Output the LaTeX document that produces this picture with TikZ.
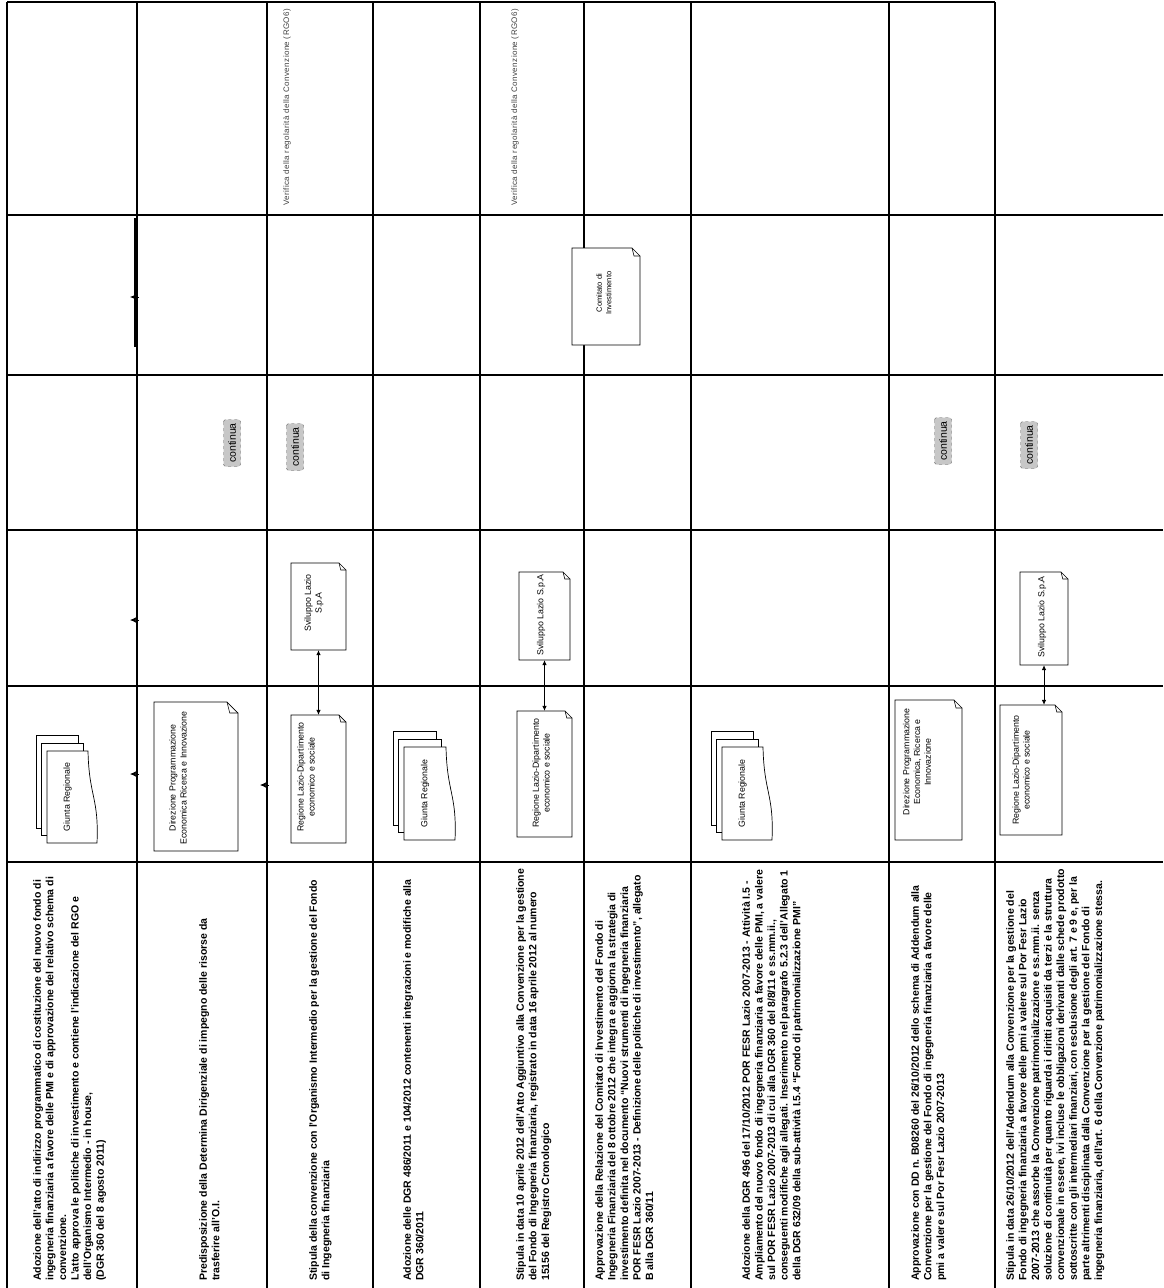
\documentclass[tikz,border=0pt]{standalone}
\usepackage{fontspec}
\setmainfont{Liberation Sans}
\newfontfamily\spacedfont[LetterSpace=5]{Liberation Sans}
\usetikzlibrary{arrows.meta,fit,calc}

\newcommand\descfont{\fontsize{10.5}{12.6}\selectfont\bfseries}
\newcommand\boxfont{\fontsize{8.8}{10.8}\selectfont}
\newcommand\smallboxfont{\fontsize{7.6}{9.5}\selectfont}

\tikzset{
  grid/.style={line width=1.1pt, black},
  boxline/.style={line width=0.7pt, black, fill=white},
  foldline/.style={line width=0.6pt, black},
  desc/.style={rotate=90, anchor=north west, align=left, font=\descfont, inner sep=0pt},
  lbl/.style={rotate=90, align=center, font=\boxfont, inner sep=0pt},
  vtext/.style={rotate=90, anchor=west, font=\fontsize{8}{9}\spacedfont, text=black!75, inner sep=0pt},
  contbox/.style={rotate=90, draw=black!65, dashed, fill=black!22, rounded corners=2.5pt,
     minimum width=47pt, minimum height=17pt, inner sep=0pt, font=\fontsize{10.5}{11}\selectfont},
  conn/.style={line width=0.7pt, {Latex[length=5pt,width=4.5pt]}-{Latex[length=5pt,width=4.5pt]}},
  tip/.style={line width=0.7pt, -{Latex[length=6pt,width=5.5pt]}},
}

\newcommand\notebox[6]{% name x1 y1 x2 y2 fold
  \draw[boxline] (#2,#3) -- ({#4-#6},#3) -- (#4,{#3+#6}) -- (#4,#5) -- (#2,#5) -- cycle;
  \draw[foldline] ({#4-#6},#3) -- ({#4-0.75*#6},{#3+#6}) -- (#4,{#3+#6});
  \coordinate (#1-a) at (#2,#3);
  \coordinate (#1-b) at (#4,#5);
  \node[fit=(#1-a)(#1-b), inner sep=0pt] (#1) {};
}

\newcommand\multidoc[5]{% name x1 y1 x2 y2 (front sheet)
  \draw[boxline] ({#2-11},{#3-16}) rectangle ({#4-10},{#5-15});
  \draw[boxline] ({#2-5.5},{#3-8}) rectangle ({#4-5},{#5-7.5});
  \draw[boxline] (#2,#3) -- (#4,#3)
     .. controls ({#4+1},{0.5*#3+0.5*#5}) and ({#4+11},{0.5*#3+0.5*#5}) .. ({#4+9},#5)
     -- (#2,#5) -- cycle;
  \node[lbl] (#1) at ({0.5*#2+0.5*#4},{0.5*#3+0.5*#5}) {Giunta Regionale};
}

\begin{document}
\begin{tikzpicture}[x=1pt,y=-1pt]
\useasboundingbox (0,0) rectangle (1163,1288);

% ---------- table grid ----------
\draw[grid] (7,2) -- (995,2);
\foreach \yy in {215,375,530,686,862} \draw[grid] (7,\yy) -- (1163,\yy);
\foreach \xx in {7,137,267,373,480,584,691,889,995} \draw[grid] (\xx,2) -- (\xx,1288);

% ---------- lane 1 (actors) ----------
\multidoc{giunta1}{47}{751}{88}{843}
\multidoc{giunta2}{404}{747}{446}{840}
\multidoc{giunta3}{722}{747}{763}{840}

\notebox{dir1}{154}{702}{238}{851}{11}
\node[lbl] (dir1t) at (178,778) {Direzione Programmazione\\Economica Ricerca e Innovazione};

\notebox{reg1}{291}{715}{346}{843}{7}
\node[lbl] (reg1t) at (306,777) {Regione Lazio-Dipartimento\\economico e sociale};

\notebox{reg2}{517}{711}{572}{837}{7}
\node[lbl] (reg2t) at (541,773) {Regione Lazio-Dipartimento\\economico e  sociale};

\notebox{dir2}{895}{700}{962}{840}{8}
\node[lbl] (dir2t) at (917,762) {Direzione Programmazione\\Economica, Ricerca e\\Innovazione};

\notebox{reg3}{1000}{705}{1062}{835}{7}
\node[lbl] (reg3t) at (1021,770) {Regione Lazio-Dipartimento\\economico e sociale};

% ---------- lane 2 ----------
\notebox{svl1}{291}{563}{346}{650}{7}
\node[lbl] (svl1t) at (314,603) {Sviluppo Lazio\\S.p.A};

\notebox{svl2}{519}{572}{570}{660}{7}
\node[lbl] (svl2t) at (541,615) {Sviluppo Lazio S.p.A};

\notebox{svl3}{1020}{572}{1068}{665}{7}
\node[lbl] (svl3t) at (1042,617) {Sviluppo Lazio S.p.A};

\draw[conn] (svl1.south) -- (svl1.south |- reg1.north);
\draw[conn] (svl2.south) -- (svl2.south |- reg2.north);
\draw[conn] (svl3.south) -- (svl3.south |- reg3.north);

% ---------- lane 3 : continua ----------
\node[contbox] (cont2) at (232,443) {continua};
\node[contbox] (cont3) at (295,447) {continua};
\node[contbox] (cont8) at (943,441) {continua};
\node[contbox] (cont9) at (1029,445) {continua};

% ---------- lane 4 ----------
\notebox{com}{572}{248}{640}{345}{8}
\node[lbl, font=\smallboxfont] (comt) at (604,293) {Comitato di\\Investimento};

\coordinate (v1a) at (135,218);
\coordinate (v1b) at (135,347);
\draw[line width=1.4pt] (v1a) -- (v1b);

% ---------- lane 5 ----------
\node[vtext] (ver3) at (287,206) {Verifica della regolarità della Convenzione (RGO6)};
\node[vtext] (ver5) at (515,206) {Verifica della regolarità della Convenzione (RGO6)};

% ---------- small arrow tips ----------
\coordinate (t1a) at (139,774); \coordinate (t1b) at (130,774);
\draw[tip] (t1a) -- (t1b);
\coordinate (t2a) at (269,785); \coordinate (t2b) at (260,785);
\draw[tip] (t2a) -- (t2b);
\coordinate (t3a) at (139,620); \coordinate (t3b) at (130,620);
\draw[tip] (t3a) -- (t3b);
\coordinate (t4a) at (139,297); \coordinate (t4b) at (130,297);
\draw[tip] (t4a) -- (t4b);

% ---------- descriptions ----------
\node[desc] (d1) at (33,1281) {Adozione dell'atto di indirizzo programmatico di costituzione del nuovo fondo di\\
ingegneria finanziaria a favore delle PMI e  di approvazione del relativo schema di\\
convenzione.\\
L'atto approva  le politiche di investimento e contiene l'indicazione del RGO e\\
dell'Organismo Intermedio - in house,\\
(DGR 360  del 8 agosto 2011)};

\node[desc] (d2) at (199,1281) {Predisposizione della Determina Dirigenziale di impegno delle risorse da\\
trasferire all'O.I.};

\node[desc] (d3) at (309,1281) {Stipula della convenzione con l'Organismo Intermedio per la gestione del Fondo\\
di Ingegneria finanziaria};

\node[desc] (d4) at (403,1281) {Adozione delle DGR 486/2011 e 104/2012 contenenti integrazioni e modifiche alla\\
DGR 360/2011};

\node[desc] (d5) at (516,1281) {Stipula in data 10 aprile 2012 dell'Atto Aggiuntivo alla Convenzione per la gestione\\
del Fondo di Ingegneria finanziaria, registrato in data 16 aprile 2012 al numero\\
15156 del Registro Cronologico};

\node[desc] (d6) at (595,1281) {Approvazione della Relazione del Comitato di Investimento del Fondo di\\
Ingegneria Finanziaria del 8 ottobre 2012 che integra e aggiorna la strategia di\\
investimento definita nel documento ``Nuovi strumenti di ingegneria finanziaria\\
POR FESR Lazio 2007-2013 - Definizione delle politiche di investimento'', allegato\\
B alla DGR 360/11};

\node[desc] (d7) at (742,1281) {Adozione della DGR 496 del 17/10/2012 POR FESR Lazio 2007-2013 - Attività I.5 -\\
Ampliamento del nuovo fondo di ingegneria finanziaria a favore delle PMI, a valere\\
sul POR FESR Lazio 2007-2013 di cui alla DGR 360 del 8/8/11 e ss.mm.ii.,\\
conseguenti modifiche agli allegati. Inserimento nel paragrafo 5.2.3 dell'Allegato 1\\
della DGR 632/09 della sub-attività I.5.4 ``Fondo di patrimonializzazione PMI''};

\node[desc] (d8) at (911,1281) {Approvazione con DD n. B08260 del 26/10/2012 dello schema di Addendum alla\\
Convenzione per la gestione del Fondo di ingegneria  finanziaria a favore delle\\
pmi a valere sul Por Fesr Lazio 2007-2013};

\node[desc] (d9) at (1006,1281) {Stipula in data 26/10/2012 dell'Addendum alla Convenzione per la gestione del\\
Fondo di ingegneria  finanziaria a favore delle pmi a valere sul Por Fesr Lazio\\
2007-2013 che assorbe la Convenzione patrimonializzazione e ss.mm.ii. senza\\
soluzione di continuità per quanto riguarda i diritti acquisiti da terzi e la struttura\\
convenzionale in essere, ivi incluse le obbligazioni derivanti dalle schede prodotto\\
sottoscritte con gli intermediari finanziari, con esclusione degli art. 7 e 9 e, per la\\
parte altrimenti disciplinata dalla Convenzione per la gestione del Fondo di\\
ingegneria finanziaria, dell'art. 6 della Convenzione patrimonializzazione stessa.};

\end{tikzpicture}
\end{document}
